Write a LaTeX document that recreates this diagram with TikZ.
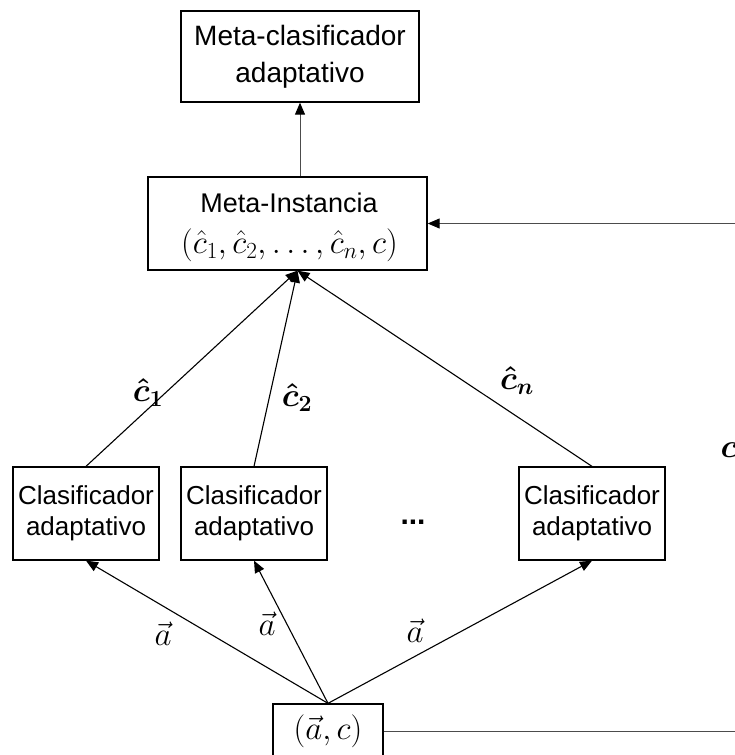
\RequirePackage{fix-cm}
\documentclass[tikz,border=0pt]{standalone}
\usepackage{amsmath}
\usepackage[no-math]{fontspec}
\setmainfont{Liberation Sans}
\usetikzlibrary{arrows.meta,calc}
\begin{document}
\begin{tikzpicture}[x=1pt,y=-1pt,
  box/.style={draw, line width=1.3pt, inner sep=0pt, align=center, font=\fontsize{26}{31}\selectfont},
  conn/.style={line width=1.1pt, -{Triangle[length=12pt,width=10pt]}},
  gconn/.style={line width=1pt, draw=black!70, -{Triangle[length=12pt,width=10pt,color=black]}},
  gline/.style={line width=1pt, draw=black!70},
  lbl/.style={font=\fontsize{33}{35}\selectfont, inner sep=0pt},
  txt/.style={font=\fontsize{27}{32}\selectfont, inner sep=0pt}]
\clip (0,0) rectangle (735,755);
\node[box, minimum width=238pt, minimum height=91pt, font=\fontsize{28}{37}\selectfont] (top) at (300,56.5) {Meta-clasificador\\adaptativo};
\node[box, minimum width=279pt, minimum height=93pt] (meta) at (287.5,223.5) {};
\node[txt] (metat) at (289,203) {Meta-Instancia};
\node[lbl] (metaf) at (289.5,245) {$(\hat{c}_1,\hat{c}_2,\ldots,\hat{c}_n,c)$};
\node[box, minimum width=146pt, minimum height=93pt] (cl1) at (86,513.5) {Clasificador\\adaptativo};
\node[box, minimum width=146pt, minimum height=93pt] (cl2) at (254,513.5) {Clasificador\\adaptativo};
\node[box, minimum width=146pt, minimum height=93pt] (cl3) at (592,513.5) {Clasificador\\adaptativo};
\node[font=\fontsize{30}{31}\selectfont\bfseries, inner sep=0pt] (dots) at (413,522) {...};
\node[box, minimum width=110pt, minimum height=54pt, font=\fontsize{33}{35}\selectfont] (src) at (328,731) {$(\vec{a},c)$};
\coordinate (rin) at (735,223.5);
\coordinate (rout) at (735,731);
\coordinate (mt) at ($(meta.south)+(10,0)$);
\draw[gconn] (top.south |- meta.north) -- (top.south);
\draw[gconn] (rin) -- (meta.east);
\draw[gline] (src.east) -- (rout);
\draw[conn] (src.north) -- (cl1.south);
\draw[conn] (src.north) -- (cl2.south);
\draw[conn] (src.north) -- (cl3.south);
\draw[conn] (cl1.north) -- (mt);
\draw[conn] (cl2.north) -- (mt);
\draw[conn] (cl3.north) -- (mt);
\node[lbl] (l1) at (148,393) {$\boldsymbol{\hat{c}_1}$};
\node[lbl] (l2) at (297,398) {$\boldsymbol{\hat{c}_2}$};
\node[lbl] (ln) at (517,381) {$\boldsymbol{\hat{c}_n}$};
\node[lbl] (lc) at (729,450) {$\boldsymbol{c}$};
\node[lbl] (a1) at (163,634) {$\vec{a}$};
\node[lbl] (a2) at (267,624) {$\vec{a}$};
\node[lbl] (a3) at (415,631) {$\vec{a}$};
\end{tikzpicture}
\end{document}
